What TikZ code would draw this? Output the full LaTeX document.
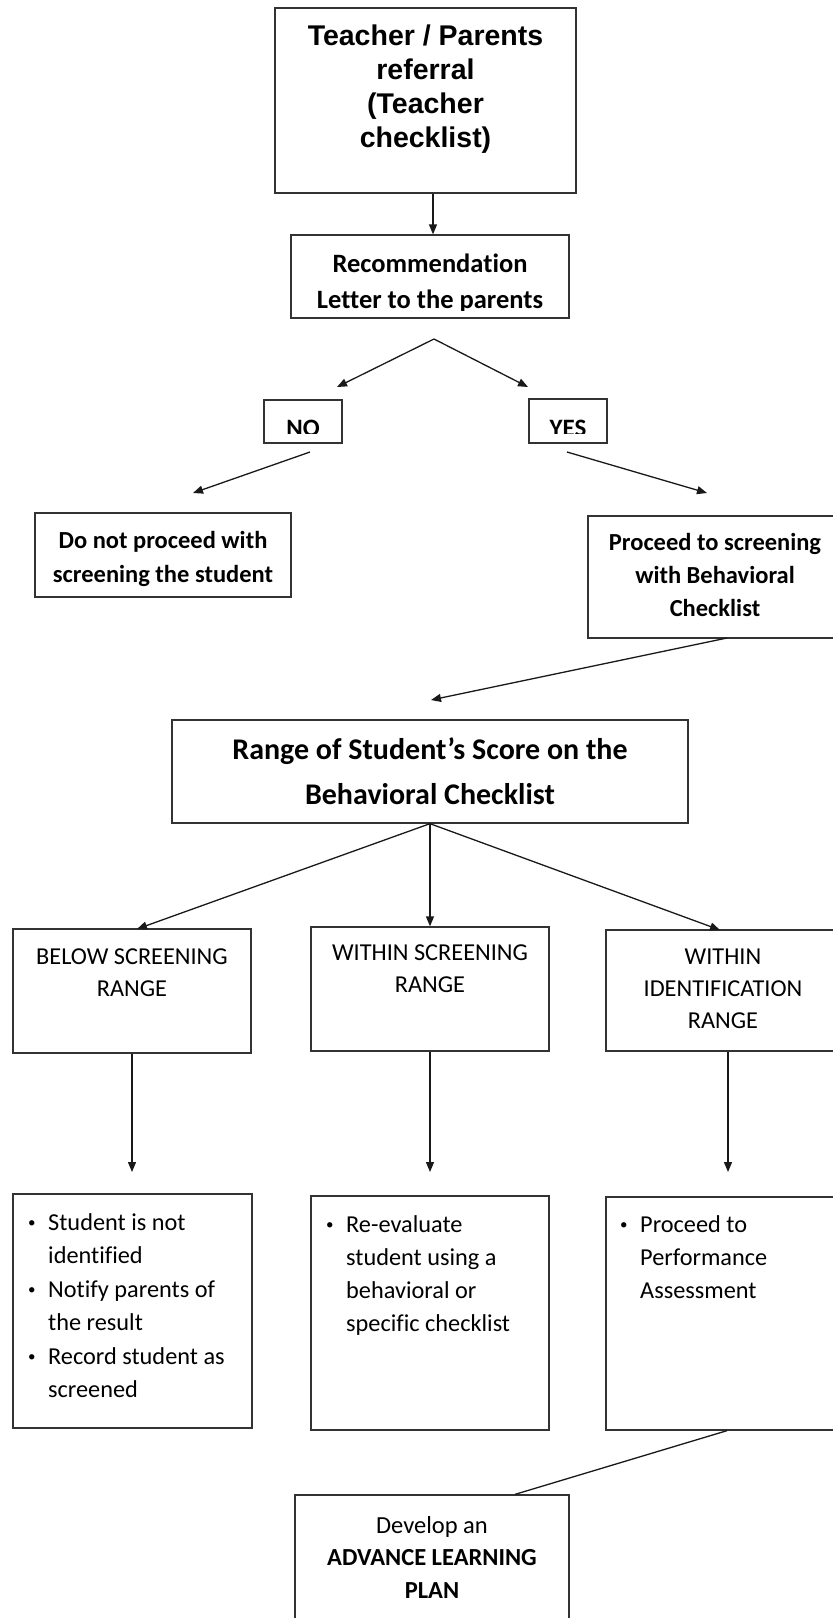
\documentclass[tikz,border=0pt]{standalone}
\usepackage{fontspec}
\setmainfont{Carlito}[Ligatures=NoCommon]
\newfontfamily\arialfont{Liberation Sans}
\usetikzlibrary{arrows.meta,fit}

% stacked lines, first baseline on the node's base anchor
\newcommand{\linesof}[2][c]{\begin{tabular}[t]{@{}#1@{}}#2\end{tabular}}
% bullet marker and matching indent for list boxes
\newcommand{\bul}{\makebox[20pt][l]{\raisebox{2.5pt}{\fontsize{15}{15}\selectfont\textbullet}}}
\newcommand{\nobul}{\hspace*{20pt}}

\tikzset{
  box/.style={draw=black!80, line width=1.3pt, inner sep=0pt, fit={#1}},
  txt/.style={inner sep=0pt, anchor=base, text=black},
  boldtxt/.style={txt, font=\bfseries\fontsize{24.5}{34}\selectfont},
  plaintxt/.style={txt, font=\fontsize{24.3}{32}\selectfont},
  listtxt/.style={txt, anchor=base west, font=\fontsize{24.3}{33}\selectfont},
  arr/.style={draw=black!90, line width=1.3pt, -{Triangle[length=10pt,width=8pt]}},
  link/.style={draw=black!90, line width=1.3pt},
}

\begin{document}
\begin{tikzpicture}[x=1pt,y=-1pt]
\useasboundingbox (0,0) rectangle (833,1618);

% referral
\node[box={(275,8) (576,193)}] (referral) {};
\node[txt, font=\arialfont\bfseries\fontsize{28.5}{34}\selectfont] (referral-t) at (425.5,45)
  {\linesof{Teacher / Parents\\referral\\(Teacher\\checklist)}};

% recommendation letter
\node[box={(291,235) (569,318)}] (letter) {};
\node[txt, font=\bfseries\fontsize{26.5}{36}\selectfont] (letter-t) at (430,272)
  {\linesof{Recommendation\\Letter to the parents}};
\fill[white] (292.5,310.5) rectangle (567.5,317);

% decision
\node[box={(264,400) (342,443)}] (no) {};
\node[txt, font=\bfseries\fontsize{25}{25}\selectfont] (no-t) at (303,436.5) {NO};
\fill[white] (265.5,434) rectangle (340.5,442.2);
\node[box={(529,399) (607,443)}] (yes) {};
\node[txt, font=\bfseries\fontsize{25}{25}\selectfont] (yes-t) at (568,436.5) {YES};
\fill[white] (530.5,434) rectangle (605.5,442.2);

\node[box={(35,513) (291,597)}] (stop) {};
\node[boldtxt] (stop-t) at (163,548) {\linesof{Do not proceed with\\screening the student}};

\node[box={(588,516) (842,638)}] (screen) {};
\node[boldtxt, font=\bfseries\fontsize{24.5}{33}\selectfont] (screen-t) at (715,550)
  {\linesof{Proceed to screening\\with Behavioral\\Checklist}};

% score range
\node[box={(172,720) (688,823)}] (range) {};
\node[txt, font=\bfseries\fontsize{30}{45}\selectfont] (range-t) at (430,759)
  {\linesof{Range of Student’s Score on the\\Behavioral Checklist}};

% three ranges
\node[box={(13,929) (251,1053)}] (below) {};
\node[plaintxt] (below-t) at (132,964) {\linesof{BELOW SCREENING\\RANGE}};
\node[box={(311,927) (549,1051)}] (within) {};
\node[plaintxt] (within-t) at (430,960) {\linesof{WITHIN SCREENING\\RANGE}};
\node[box={(606,930) (842,1051)}] (ident) {};
\node[plaintxt] (ident-t) at (723,964) {\linesof{WITHIN\\IDENTIFICATION\\RANGE}};

% outcomes
\node[box={(13,1194) (252,1428)}] (out1) {};
\node[listtxt] (out1-t) at (28,1230)
  {\linesof[l]{\bul Student is not\\\nobul identified\\[1pt]\bul Notify parents of\\\nobul the result\\[1pt]\bul Record student as\\\nobul screened}};
\node[box={(311,1196) (549,1430)}] (out2) {};
\node[listtxt] (out2-t) at (326,1232)
  {\linesof[l]{\bul Re-evaluate\\\nobul student using a\\\nobul behavioral or\\\nobul specific checklist}};
\node[box={(606,1197) (842,1430)}] (out3) {};
\node[listtxt] (out3-t) at (620,1232)
  {\linesof[l]{\bul Proceed to\\\nobul Performance\\\nobul Assessment}};

% learning plan
\node[box={(295,1495) (569,1632)}] (plan) {};
\node[txt, font=\fontsize{24.5}{32.5}\selectfont] (plan-t) at (432,1533)
  {\linesof{Develop an\\\textbf{ADVANCE LEARNING}\\\textbf{PLAN}}};

% connector end points
\coordinate (c-top) at (433,0);
\coordinate (split) at (434,339);
\coordinate (no-in) at (337,387);
\coordinate (yes-in) at (528,387);
\coordinate (no-out) at (310,452);
\coordinate (stop-in) at (193,493);
\coordinate (yes-out) at (567,452);
\coordinate (screen-in) at (707,493);
\coordinate (screen-out) at (727,638);
\coordinate (range-in) at (431,700);
\coordinate (below-in) at (137,929);
\coordinate (ident-in) at (720,930);
\coordinate (d1) at (132,1172);
\coordinate (d2) at (430,1172);
\coordinate (d3) at (728,1172);
\coordinate (plan-src) at (727,0);
\coordinate (plan-in) at (515,0);

% connectors
\draw[arr] (referral.south -| c-top) -- (letter.north -| c-top);
\draw[arr] (split) -- (no-in);
\draw[arr] (split) -- (yes-in);
\draw[arr] (no-out) -- (stop-in);
\draw[arr] (yes-out) -- (screen-in);
\draw[arr] (screen-out) -- (range-in);
\draw[arr] (range.south) -- (below-in);
\draw[arr] (range.south) -- (within.north);
\draw[arr] (range.south) -- (ident-in);
\draw[arr] (below.south) -- (d1);
\draw[arr] (within.south) -- (d2);
\draw[arr] (ident.south -| d3) -- (d3);
\draw[link] (out3.south -| plan-src) -- (plan.north -| plan-in);
\end{tikzpicture}
\end{document}
